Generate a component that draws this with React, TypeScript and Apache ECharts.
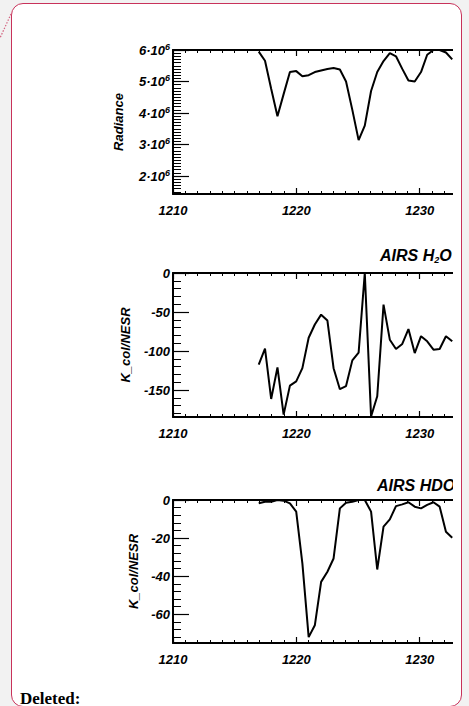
import React, { useEffect, useRef } from "react";
import * as echarts from "echarts";

// Shared spectral grid (cm-1)
const wavenumber = [
  1216.95, 1217.46, 1217.96, 1218.47, 1218.97, 1219.48, 1219.99, 1220.49,
  1221.0, 1221.5, 1222.01, 1222.52, 1223.02, 1223.53, 1224.03, 1224.54,
  1225.05, 1225.55, 1226.06, 1226.56, 1227.07, 1227.58, 1228.08, 1228.59,
  1229.09, 1229.6, 1230.11, 1230.61, 1231.12, 1231.62, 1232.13, 1232.64,
];

const radiance = [
  5.95e6, 5.66e6, 4.77e6, 3.9e6, 4.6e6, 5.3e6, 5.33e6, 5.17e6,
  5.2e6, 5.3e6, 5.35e6, 5.4e6, 5.43e6, 5.38e6, 5.0e6, 4.1e6,
  3.14e6, 3.6e6, 4.7e6, 5.3e6, 5.65e6, 5.9e6, 5.8e6, 5.4e6,
  5.03e6, 5.0e6, 5.3e6, 5.85e6, 6.0e6, 6.0e6, 5.92e6, 5.7e6,
];

const kH2O = [
  -117.5, -97, -161.5, -121, -181.6, -144.4, -139, -122,
  -83, -66, -53.4, -61, -122, -149, -145, -112,
  -102, 0, -184, -158, -40.6, -85.5, -97.4, -91,
  -71.8, -102.6, -81, -87.6, -98.3, -97.4, -81, -87.6,
];

const kHDO = [
  -1.75, -0.9, -0.9, 0, -0.35, -1.75, -6.1, -33.3,
  -72, -65.8, -43, -37.7, -30.7, -4.4, -1.4, -0.9,
  0, 0, -6.1, -36.5, -14, -10.2, -3.2, -2.3,
  -1.2, -3.5, -4.4, -2.6, -1.2, -3.5, -16.7, -19.8,
];

const xRange = [1210, 1240];
const xMajor = 10;
const xTickLabels = [1210, 1220, 1230];
const yNames = ["Radiance", "K_col/NESR", "K_col/NESR"];
const panelTitles = ["", "{t|AIRS H}{b|2}{t|O}", "{t|AIRS HDO}"];

const FONT = "Liberation Sans";

const labelBase = {
  fontFamily: FONT,
  fontWeight: "bold" as const,
  fontStyle: "italic" as const,
  fontSize: 13,
  color: "#000",
};

type Panel = {
  top: number;
  height: number;
  yMin: number;
  yMax: number;
  major: number;
  minor: number;
  nameGap: number;
  data: number[];
  label: (v: number) => string;
};

const panels: Panel[] = [
  {
    top: 50, height: 144, yMin: 1.43e6, yMax: 6e6, major: 1e6, minor: 1e5, nameGap: 48,
    data: radiance,
    label: (v) => `{m|${Math.round((6e6 - v) / 1e6)}·10}{s|6}`,
  },
  {
    top: 273, height: 144, yMin: -184.6, yMax: 0, major: 50, minor: 10, nameGap: 41,
    data: kH2O,
    label: (v) => (v === 0 ? "0" : `-${Math.round(v)}`),
  },
  {
    top: 500, height: 143, yMin: -75.1, yMax: 0, major: 20, minor: 4, nameGap: 33,
    data: kHDO,
    label: (v) => (v === 0 ? "0" : `-${Math.round(v)}`),
  },
];

function buildOption() {
  const grid: any[] = [];
  const xAxis: any[] = [];
  const yAxis: any[] = [];
  const series: any[] = [];
  const graphic: any[] = [];

  panels.forEach((p, i) => {
    grid.push({ left: 173, top: p.top, width: 370, height: p.height, containLabel: false });
    const xCommon = {
      gridIndex: i,
      type: "value",
      min: xRange[0],
      max: xRange[1],
      interval: xMajor,
      axisLine: { show: true, onZero: false, lineStyle: { color: "#000", width: 2 } },
      axisTick: { show: true, inside: true, length: 6, lineStyle: { color: "#000", width: 1.2 } },
      minorTick: { show: true, splitNumber: 10, length: 3, lineStyle: { color: "#000", width: 1 } },
      splitLine: { show: false },
      minorSplitLine: { show: false },
    };
    xAxis.push({
      ...xCommon,
      position: "bottom",
      axisLabel: {
        ...labelBase,
        margin: 10,
        formatter: (v: number) => (xTickLabels.indexOf(v) >= 0 ? String(v) : ""),
      },
    });
    xAxis.push({
      ...xCommon,
      position: "top",
      axisLabel: { show: false },
    });

    const span = p.yMax - p.yMin;
    // data axis
    yAxis.push({
      gridIndex: i,
      type: "value",
      min: p.yMin,
      max: p.yMax,
      show: false,
      splitLine: { show: false },
    });
    // major tick axis (measured downward from the top of the frame)
    yAxis.push({
      gridIndex: i,
      type: "value",
      inverse: true,
      min: 0,
      max: span,
      interval: p.major,
      position: "left",
      axisLine: { show: true, onZero: false, lineStyle: { color: "#000", width: 2 } },
      axisTick: { show: true, inside: true, length: 16, lineStyle: { color: "#000", width: 1.2 } },
      splitLine: { show: false },
      axisLabel: {
        ...labelBase,
        margin: 3,
        showMaxLabel: false,
        formatter: (v: number) => {
          const r = v / p.major;
          if (Math.abs(r - Math.round(r)) > 1e-6) return "";
          return p.label(v);
        },
        rich: {
          m: { ...labelBase, lineHeight: 16 },
          s: { ...labelBase, fontSize: 9, lineHeight: 9, verticalAlign: "top" },
        },
      },
      name: yNames[i],
      nameLocation: "middle",
      nameGap: p.nameGap,
      nameTextStyle: { ...labelBase },
    });
    // minor tick axis
    yAxis.push({
      gridIndex: i,
      type: "value",
      inverse: true,
      min: 0,
      max: span,
      interval: p.minor,
      position: "left",
      axisLine: { show: false },
      axisTick: { show: true, inside: true, length: 8, lineStyle: { color: "#000", width: 1 } },
      axisLabel: { show: false },
      splitLine: { show: false },
    });

    series.push({
      type: "line",
      xAxisIndex: i * 2,
      yAxisIndex: i * 3,
      data: wavenumber.map((x, k) => [x, p.data[k]]),
      showSymbol: false,
      symbol: "none",
      clip: true,
      silent: true,
      lineStyle: { color: "#000", width: 2 },
    });
  });

  const titleRich = {
    t: { fontFamily: FONT, fontWeight: "bold", fontStyle: "italic", fontSize: 16, lineHeight: 18, fill: "#000", color: "#000" },
    b: { fontFamily: FONT, fontWeight: "bold", fontStyle: "italic", fontSize: 9, lineHeight: 9, verticalAlign: "bottom", fill: "#000", color: "#000" },
  };
  graphic.push({
    type: "text", x: 380, y: 255,
    style: { text: panelTitles[1], rich: titleRich, verticalAlign: "middle", align: "left" },
  });
  graphic.push({
    type: "text", x: 377, y: 485,
    style: { text: panelTitles[2], rich: titleRich, verticalAlign: "middle", align: "left" },
  });
  graphic.push({
    type: "line",
    shape: { x1: 11, y1: 14, x2: 0, y2: 38 },
    style: { stroke: "#d2607e", lineWidth: 1.2, lineDash: [1.5, 1.5] },
  });
  graphic.push({
    type: "text", x: 20, y: 698,
    style: {
      text: "Deleted:",
      font: 'bold 17px "Liberation Serif"',
      fill: "#000",
      verticalAlign: "middle",
      align: "left",
    },
  });

  return {
    animation: false,
    backgroundColor: "transparent",
    grid,
    xAxis,
    yAxis,
    series,
    graphic,
  };
}

export default function App() {
  const ref = useRef<HTMLDivElement>(null);
  useEffect(() => {
    if (!ref.current) return;
    const chart = echarts.init(ref.current, undefined, { renderer: "svg" });
    chart.setOption(buildOption() as any);
    return () => chart.dispose();
  }, []);

  return (
    <div
      style={{
        position: "absolute",
        left: 0,
        top: 0,
        width: 469,
        height: 706,
        background: "#f2f2f2",
        overflow: "hidden",
      }}
    >
      <div
        style={{
          position: "absolute",
          left: 11,
          top: 3,
          width: 451,
          height: 704,
          boxSizing: "border-box",
          border: "1.5px solid #c8325a",
          borderRadius: 12,
          background: "#fff",
        }}
      />
      <div
        style={{
          position: "absolute",
          left: 0,
          top: 0,
          width: 453,
          height: 706,
          overflow: "hidden",
        }}
      >
        <div ref={ref} style={{ width: 600, height: 706 }} />
      </div>
    </div>
  );
}
